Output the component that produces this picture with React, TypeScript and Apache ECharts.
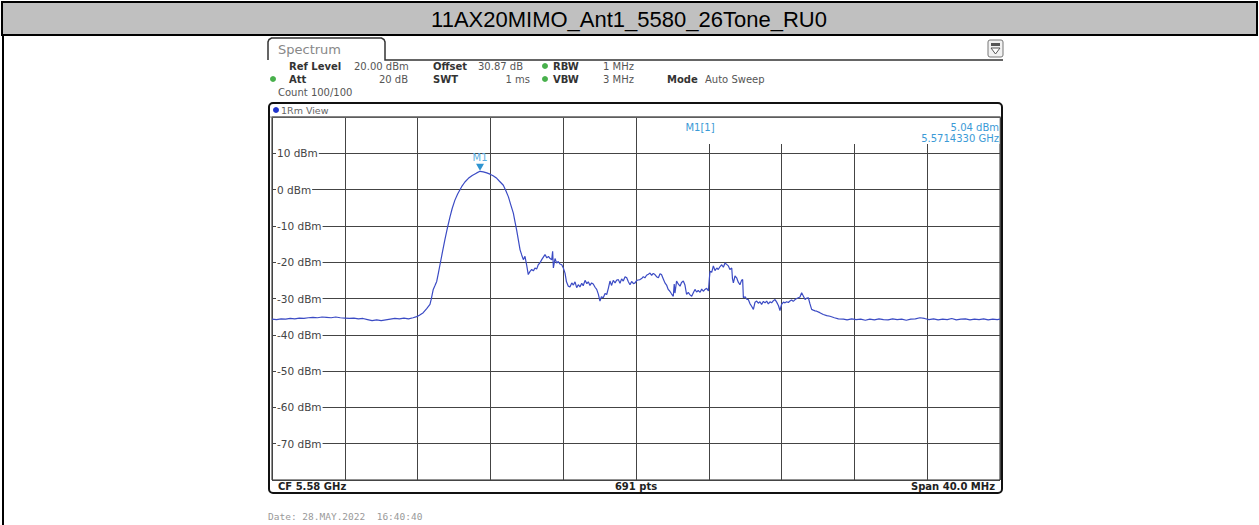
import React, { useEffect, useRef } from "react";
import * as echarts from "echarts";

// ---- data (frequency offset in MHz from 5.56 GHz, level in dBm) ----
const titleText = "11AX20MIMO_Ant1_5580_26Tone_RU0";
const spanStartMHz = 0;
const spanEndMHz = 40;
const levelMin = -80;
const levelMax = 20;

const leftFloor: [number, number][] = [
  [0, -35.7], [0.25, -35.8], [0.5, -35.6], [0.75, -35.7], [1, -35.5], [1.25, -35.6],
  [1.5, -35.4], [1.75, -35.5], [2, -35.3], [2.25, -35.2], [2.5, -35.3], [2.75, -35.1],
  [3, -35.2], [3.25, -35.3], [3.5, -35.1], [3.75, -35.3], [4, -35.4], [4.25, -35.5],
  [4.5, -35.4], [4.75, -35.6], [5, -35.5], [5.25, -35.8], [5.5, -36.1], [5.75, -35.9],
  [6, -36.1], [6.25, -35.9], [6.5, -35.7], [6.75, -35.5], [7, -35.6], [7.25, -35.4],
  [7.5, -35.6], [7.75, -35.3],
];

const mainLobe: [number, number][] = [
  [7.95, -35.0], [8.1, -34.6], [8.31, -33.9], [8.5, -32.8], [8.68, -31.6], [8.75, -30.2],
  [8.86, -27.5], [8.95, -26.5], [9.05, -25.3], [9.15, -22.8], [9.23, -20.7], [9.35, -17.6],
  [9.5, -13.8], [9.65, -10.3], [9.78, -7.5], [9.9, -5.2], [10.05, -2.9], [10.2, -1.2],
  [10.42, 0.8], [10.6, 2.1], [10.79, 3.1], [11.0, 3.9], [11.25, 4.6], [11.43, 5.04],
  [11.61, 4.9], [11.8, 4.6], [11.98, 4.25], [12.15, 3.8], [12.35, 3.1], [12.5, 2.3],
  [12.71, 1.2], [12.85, -0.3], [12.99, -2.0], [13.12, -4.2], [13.26, -6.5], [13.35, -8.8],
  [13.44, -11.1], [13.54, -14.0], [13.63, -16.6], [13.72, -18.0], [13.81, -19.3],
];

const inBandRipple: [number, number][] = [
  [13.9, -18.4], [14.0, -21.0], [14.08, -23.4], [14.17, -22.6], [14.27, -22.0], [14.36, -22.4],
  [14.45, -21.6], [14.54, -21.9], [14.63, -20.7], [14.72, -20.2], [14.82, -19.3], [14.91, -18.6],
  [15.0, -17.9], [15.1, -18.8], [15.19, -18.4], [15.28, -19.0], [15.37, -19.3], [15.42, -17.0],
  [15.46, -21.6], [15.55, -19.0], [15.64, -20.2], [15.73, -19.8], [15.82, -20.5], [15.92, -20.7],
  [16.0, -21.5], [16.1, -23.0], [16.18, -25.4], [16.28, -26.6], [16.37, -26.8], [16.47, -25.7],
  [16.56, -26.3], [16.65, -25.4], [16.74, -27.0], [16.83, -26.2], [16.92, -26.8], [17.02, -25.8],
  [17.1, -26.5], [17.2, -25.0], [17.3, -25.9], [17.38, -25.4], [17.47, -26.4], [17.56, -25.7],
  [17.65, -26.0], [17.75, -26.9], [17.84, -27.5], [17.93, -28.8], [18.02, -30.7], [18.1, -29.5],
  [18.2, -29.8], [18.3, -28.6], [18.39, -28.9], [18.48, -27.2], [18.57, -25.2], [18.66, -26.4],
  [18.75, -25.0], [18.85, -25.7], [18.94, -24.9], [19.03, -24.8], [19.12, -25.8], [19.21, -24.6],
  [19.3, -25.2], [19.4, -24.0], [19.49, -24.3], [19.58, -25.4], [19.67, -26.2], [19.76, -25.3],
  [19.86, -25.9], [19.95, -25.7], [20.04, -25.0], [20.13, -24.9], [20.22, -24.8], [20.31, -24.5],
  [20.4, -24.0], [20.49, -24.3], [20.58, -23.6], [20.68, -23.3], [20.77, -23.0], [20.86, -23.6],
  [20.95, -23.1], [21.04, -23.4], [21.13, -24.0], [21.23, -24.3], [21.32, -23.2], [21.4, -23.4],
  [21.5, -24.6], [21.59, -25.7], [21.68, -26.3], [21.77, -27.5], [21.86, -28.0], [21.95, -28.7],
  [22.05, -29.4], [22.1, -26.0], [22.14, -28.5], [22.23, -25.2], [22.32, -26.0], [22.42, -26.6],
  [22.5, -25.6], [22.6, -25.2], [22.69, -26.3], [22.78, -28.9], [22.87, -28.3], [22.97, -29.0],
  [23.06, -29.4], [23.15, -28.4], [23.24, -27.5], [23.33, -28.2], [23.42, -27.8], [23.52, -28.3],
  [23.61, -27.4], [23.7, -28.0], [23.79, -27.5], [23.88, -27.2], [23.98, -27.9], [24.03, -24.5],
  [24.07, -22.5], [24.16, -22.8], [24.25, -21.0], [24.34, -22.3], [24.44, -21.6], [24.52, -22.0],
  [24.62, -21.2], [24.71, -20.7], [24.8, -21.4], [24.89, -20.2], [24.98, -20.6], [25.07, -21.0],
  [25.16, -22.0], [25.26, -21.6], [25.3, -24.5], [25.35, -25.7], [25.44, -23.8], [25.53, -24.3],
  [25.62, -25.5], [25.71, -26.2], [25.8, -25.0], [25.86, -24.8], [25.9, -29.8], [26.0, -29.5],
  [26.08, -30.2], [26.17, -30.3], [26.26, -31.4], [26.36, -32.2], [26.45, -33.0], [26.54, -31.0],
  [26.63, -30.7], [26.72, -31.3], [26.81, -30.9], [26.9, -31.6], [27.0, -30.8], [27.09, -31.2],
  [27.18, -30.7], [27.27, -31.5], [27.36, -30.9], [27.45, -31.2], [27.55, -30.6], [27.64, -30.3],
  [27.73, -31.0], [27.83, -32.0], [27.91, -33.3], [28.0, -31.6], [28.1, -31.0], [28.19, -31.2],
  [28.28, -30.9], [28.37, -31.1], [28.46, -30.7], [28.55, -30.4], [28.64, -30.8], [28.74, -30.3],
  [28.83, -30.0], [28.92, -29.8], [29.01, -29.6], [29.1, -28.4], [29.2, -29.4], [29.29, -30.3],
  [29.38, -29.9], [29.47, -29.8],
];

const rightSkirt: [number, number][] = [
  [29.56, -31.5], [29.65, -33.0], [29.74, -33.2], [29.84, -33.4], [29.93, -33.5], [30.1, -33.9],
  [30.29, -34.4], [30.48, -34.7], [30.66, -34.9], [30.9, -35.3], [31.12, -35.6],
];

const rightFloor: [number, number][] = [
  [31.4, -35.7], [31.6, -35.9], [31.85, -35.6], [32.1, -35.8], [32.35, -35.7], [32.6, -36.0],
  [32.85, -35.7], [33.1, -35.9], [33.35, -35.6], [33.6, -35.8], [33.85, -35.9], [34.1, -35.6],
  [34.35, -35.8], [34.6, -35.7], [34.85, -36.0], [35.1, -35.7], [35.35, -35.6], [35.6, -35.3],
  [35.85, -35.5], [36.1, -35.8], [36.35, -35.6], [36.6, -35.9], [36.85, -35.7], [37.1, -35.8],
  [37.35, -35.5], [37.6, -35.9], [37.85, -35.7], [38.1, -35.6], [38.35, -35.9], [38.6, -35.7],
  [38.85, -35.8], [39.1, -35.6], [39.35, -35.9], [39.6, -35.7], [39.85, -35.8], [40, -35.7],
];

const markerFreqMHz = 11.43;
const markerLevel = 5.04;
const markerLevelText = "5.04 dBm";
const markerFreqText = "5.5714330 GHz";

const FONT = '"DejaVu Sans", Verdana, sans-serif';

function txt(x: number, y: number, text: string, o: any = {}) {
  return {
    type: "text",
    x,
    y,
    z: o.z ?? 60,
    style: {
      text,
      fill: o.fill ?? "#555",
      font: `${o.bold ? "bold " : ""}${o.size ?? 10}px ${o.family ?? FONT}`,
      textAlign: o.align ?? "left",
      textVerticalAlign: "middle",
    },
  };
}

function dot(x: number, y: number, color: string) {
  return { type: "circle", z: 60, shape: { cx: x, cy: y, r: 3 }, style: { fill: color } };
}

export default function App() {
  const ref = useRef<HTMLDivElement>(null);
  useEffect(() => {
    if (!ref.current) return;
    const chart = echarts.init(ref.current, null, { renderer: "svg" });
    const trace = [...leftFloor, ...mainLobe, ...inBandRipple, ...rightSkirt, ...rightFloor];
    const green = "#48b04c";
    chart.setOption({
      animation: false,
      backgroundColor: "#fff",
      grid: {
        left: 272,
        top: 117,
        width: 728,
        height: 363,
        show: true,
        backgroundColor: "#fff",
        borderColor: "#222",
        borderWidth: 1,
      },
      xAxis: {
        type: "value",
        min: spanStartMHz,
        max: spanEndMHz,
        interval: 4,
        axisLine: { show: false },
        axisTick: { show: false },
        axisLabel: { show: false },
        splitLine: { show: true, lineStyle: { color: "#444", width: 1 } },
      },
      yAxis: {
        type: "value",
        min: levelMin,
        max: levelMax,
        interval: 10,
        axisLine: { show: false },
        axisTick: { show: false },
        splitLine: { show: true, lineStyle: { color: "#444", width: 1 } },
        axisLabel: {
          inside: true,
          margin: 4,
          showMinLabel: false,
          showMaxLabel: false,
          formatter: (v: number) => `${v} dBm`,
          color: "#444",
          fontSize: 10.5,
          fontFamily: FONT,
          backgroundColor: "#fff",
          padding: [1, 1, 1, 1],
        },
      },
      series: [
        {
          type: "line",
          data: trace,
          symbol: "none",
          lineStyle: { color: "#3b4bc4", width: 1.2 },
          z: 3,
          markPoint: {
            data: [
              {
                coord: [markerFreqMHz, markerLevel],
                symbol: "triangle",
                symbolRotate: 180,
                symbolSize: [8, 7],
                symbolOffset: [0, -4],
                itemStyle: { color: "#2f94d0" },
                label: {
                  show: true,
                  position: "top",
                  distance: 1,
                  formatter: "M1",
                  color: "#5aaee0",
                  fontSize: 10,
                  fontFamily: FONT,
                },
              },
            ],
          },
        },
      ],
      graphic: [
        // outer page title bar
        { type: "rect", z: 10, shape: { x: 2, y: 2, width: 1255, height: 33 }, style: { fill: "#c0c0c0", stroke: "#000", lineWidth: 2 } },
        { type: "line", z: 10, shape: { x1: 3, y1: 35, x2: 3, y2: 525 }, style: { stroke: "#000", lineWidth: 2 } },
        txt(629, 19, titleText, { fill: "#000", size: 22, family: '"Liberation Sans", Arial, sans-serif', align: "center", z: 11 }),
        // spectrum window tab
        {
          type: "polyline",
          z: 10,
          shape: {
            points: [
              [268, 60], [268, 42], [269, 39.5], [271.5, 38], [381.5, 38], [384, 39.5], [385, 42], [385, 60], [1003, 60],
            ],
          },
          style: { stroke: "#333", lineWidth: 1.5, fill: null },
        },
        txt(278, 49, "Spectrum", { size: 13, fill: "#888" }),
        // top-right icon
        { type: "rect", z: 10, shape: { x: 988, y: 40, width: 15, height: 17, r: 2 }, style: { fill: "#f2f2f2", stroke: "#777", lineWidth: 1 } },
        { type: "rect", z: 11, shape: { x: 991, y: 43, width: 9, height: 3 }, style: { fill: "#555" } },
        { type: "polygon", z: 11, shape: { points: [[991, 48], [1000, 48], [995.5, 54]] }, style: { fill: "#fff", stroke: "#555", lineWidth: 1 } },
        // setting rows
        txt(289, 66, "Ref Level", { bold: true, fill: "#333" }),
        txt(354, 66, "20.00 dBm"),
        txt(433, 66, "Offset", { bold: true, fill: "#333" }),
        txt(478, 66, "30.87 dB"),
        dot(545, 66, green),
        txt(553, 66, "RBW", { bold: true, fill: "#333" }),
        txt(603, 66, "1 MHz"),
        dot(273, 79, green),
        txt(289, 79, "Att", { bold: true, fill: "#333" }),
        txt(408, 79, "20 dB", { align: "right" }),
        txt(433, 79, "SWT", { bold: true, fill: "#333" }),
        txt(530, 79, "1 ms", { align: "right" }),
        dot(545, 79, green),
        txt(553, 79, "VBW", { bold: true, fill: "#333" }),
        txt(603, 79, "3 MHz"),
        txt(667, 79, "Mode", { bold: true, fill: "#333" }),
        txt(705, 79, "Auto Sweep"),
        txt(278, 92, "Count 100/100"),
        // diagram box
        { type: "rect", z: 55, shape: { x: 269, y: 103, width: 733, height: 390, r: 4 }, style: { fill: "transparent", stroke: "#111", lineWidth: 2 } },
        { type: "line", z: 55, shape: { x1: 270, y1: 117, x2: 1001, y2: 117 }, style: { stroke: "#777", lineWidth: 1 } },
        dot(276, 110, "#1f33cc"),
        txt(281, 110, "1Rm View", { size: 9.5, fill: "#666" }),
        // marker info area
        { type: "rect", z: 50, shape: { x: 660, y: 118, width: 339.5, height: 26 }, style: { fill: "#fff" } },
        txt(700, 127, "M1[1]", { fill: "#3b9ad6", align: "center" }),
        txt(999, 127, markerLevelText, { fill: "#3b9ad6", align: "right" }),
        txt(999, 138, markerFreqText, { fill: "#3b9ad6", align: "right" }),
        // bottom bar
        txt(278, 486, "CF 5.58 GHz", { bold: true, fill: "#222" }),
        txt(636, 486, "691 pts", { bold: true, fill: "#222", align: "center" }),
        txt(995, 486, "Span 40.0 MHz", { bold: true, fill: "#222", align: "right" }),
        // date line
        txt(268, 516, "Date: 28.MAY.2022  16:40:40", { size: 9.5, fill: "#999", family: '"DejaVu Sans Mono", "Liberation Mono", monospace' }),
      ],
    });
    return () => chart.dispose();
  }, []);
  return <div ref={ref} style={{ position: "fixed", left: 0, top: 0, width: 1259, height: 525 }} />;
}
